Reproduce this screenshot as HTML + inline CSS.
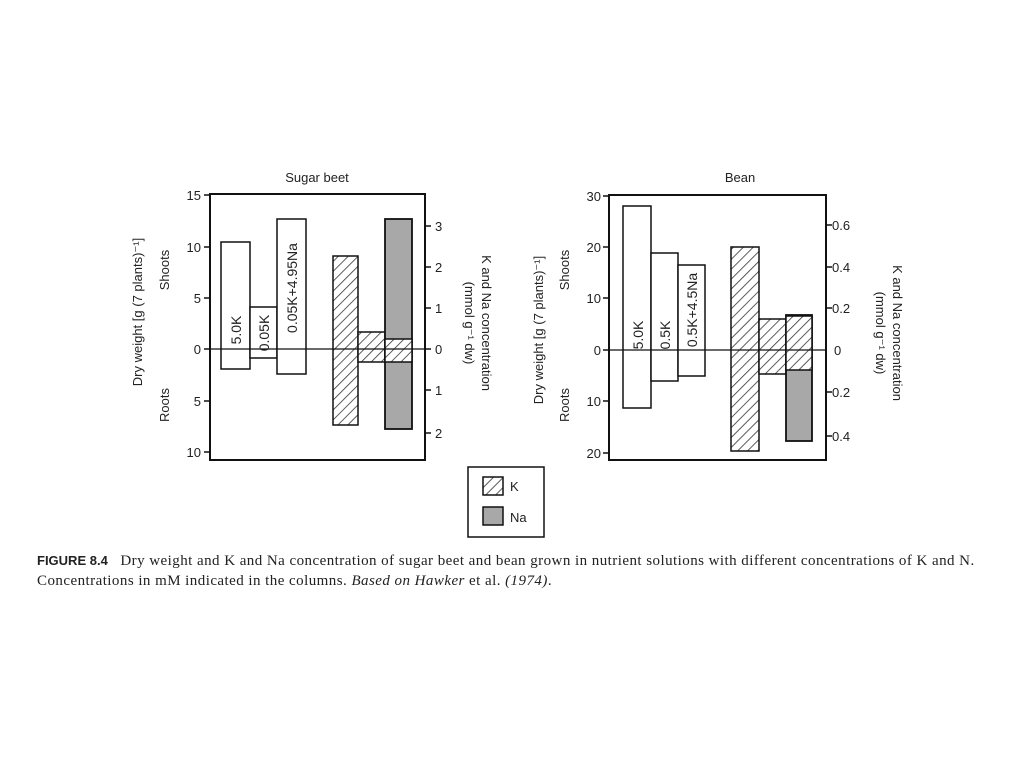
<!DOCTYPE html>
<html><head><meta charset="utf-8"><style>
body{margin:0;background:#fff;width:1024px;height:768px;overflow:hidden}
svg text{font-family:"Liberation Sans",sans-serif;fill:#222}
.cap{position:absolute;left:37px;font-family:"Liberation Serif",serif;font-size:15px;letter-spacing:0.45px;color:#222;white-space:nowrap}
</style></head><body>
<svg width="1024" height="768" style="position:absolute;left:0;top:0">
<defs>
<pattern id="h" patternUnits="userSpaceOnUse" width="7" height="7" patternTransform="rotate(45)">
<rect width="7" height="7" fill="#fff"/><line x1="0" y1="0" x2="0" y2="7" stroke="#333" stroke-width="1.6"/>
</pattern>
</defs>
<g stroke="#111" fill="none">
<!-- Sugar beet -->
<rect x="210" y="194" width="215" height="266" stroke-width="2"/>
<rect x="221" y="242" width="29" height="127" fill="#fff" stroke-width="1.5"/>
<rect x="250" y="307" width="27" height="51" fill="#fff" stroke-width="1.5"/>
<rect x="277" y="219" width="29" height="155" fill="#fff" stroke-width="1.5"/>
<rect x="333" y="256" width="25" height="169" fill="url(#h)" stroke-width="1.5"/>
<rect x="358" y="332" width="27" height="30" fill="url(#h)" stroke-width="1.5"/>
<rect x="385" y="219" width="27" height="210" fill="#a8a8a8" stroke-width="1.8"/>
<rect x="385" y="339" width="27" height="23" fill="url(#h)" stroke-width="1.5"/>
<line x1="210" y1="349" x2="425" y2="349" stroke-width="1.2"/>
<g stroke-width="1.5">
<line x1="204" y1="195" x2="210" y2="195"/><line x1="204" y1="247" x2="210" y2="247"/><line x1="204" y1="298" x2="210" y2="298"/><line x1="204" y1="349" x2="210" y2="349"/><line x1="204" y1="401" x2="210" y2="401"/><line x1="204" y1="452" x2="210" y2="452"/>
<line x1="425" y1="226" x2="431" y2="226"/><line x1="425" y1="267" x2="431" y2="267"/><line x1="425" y1="308" x2="431" y2="308"/><line x1="425" y1="349" x2="431" y2="349"/><line x1="425" y1="390" x2="431" y2="390"/><line x1="425" y1="433" x2="431" y2="433"/>
</g>
<!-- Bean -->
<rect x="609" y="195" width="217" height="265" stroke-width="2"/>
<rect x="623" y="206" width="28" height="202" fill="#fff" stroke-width="1.5"/>
<rect x="651" y="253" width="27" height="128" fill="#fff" stroke-width="1.5"/>
<rect x="678" y="265" width="27" height="111" fill="#fff" stroke-width="1.5"/>
<rect x="731" y="247" width="28" height="204" fill="url(#h)" stroke-width="1.5"/>
<rect x="759" y="319" width="27" height="55" fill="url(#h)" stroke-width="1.5"/>
<rect x="786" y="315" width="26" height="126" fill="#a8a8a8" stroke-width="1.8"/>
<rect x="786" y="316" width="26" height="54" fill="url(#h)" stroke-width="1.5"/>
<line x1="609" y1="350" x2="826" y2="350" stroke-width="1.2"/>
<g stroke-width="1.5">
<line x1="603" y1="196" x2="609" y2="196"/><line x1="603" y1="247" x2="609" y2="247"/><line x1="603" y1="298" x2="609" y2="298"/><line x1="603" y1="350" x2="609" y2="350"/><line x1="603" y1="401" x2="609" y2="401"/><line x1="603" y1="453" x2="609" y2="453"/>
<line x1="826" y1="225" x2="832" y2="225"/><line x1="826" y1="267" x2="832" y2="267"/><line x1="826" y1="308" x2="832" y2="308"/><line x1="826" y1="392" x2="832" y2="392"/><line x1="826" y1="436" x2="832" y2="436"/>
</g>
<!-- legend -->
<rect x="468" y="467" width="76" height="70" stroke-width="1.5"/>
<rect x="483" y="477" width="20" height="18" fill="url(#h)" stroke-width="1.5"/>
<rect x="483" y="507" width="20" height="18" fill="#a8a8a8" stroke-width="1.5"/>
</g>
<g font-size="13">
<text x="317" y="182" text-anchor="middle">Sugar beet</text>
<g text-anchor="end"><text x="201" y="200">15</text><text x="201" y="252">10</text><text x="201" y="303">5</text><text x="201" y="354">0</text><text x="201" y="406">5</text><text x="201" y="457">10</text></g>
<text x="435" y="231">3</text><text x="435" y="272">2</text><text x="435" y="313">1</text><text x="435" y="354">0</text><text x="435" y="395">1</text><text x="435" y="438">2</text>
<text x="740" y="182" text-anchor="middle">Bean</text>
<g text-anchor="end"><text x="601" y="201">30</text><text x="601" y="252">20</text><text x="601" y="303">10</text><text x="601" y="355">0</text><text x="601" y="406">10</text><text x="601" y="458">20</text></g>
<text x="832" y="230">0.6</text><text x="832" y="272">0.4</text><text x="832" y="313">0.2</text><text x="834" y="355">0</text><text x="832" y="397">0.2</text><text x="832" y="441">0.4</text>
<text x="510" y="491">K</text><text x="510" y="522">Na</text>
<g transform="rotate(-90)" font-size="14">
<text x="-330" y="241" text-anchor="middle">5.0K</text>
<text x="-333" y="269" text-anchor="middle">0.05K</text>
<text x="-288" y="297" text-anchor="middle">0.05K+4.95Na</text>
<text x="-335" y="643" text-anchor="middle">5.0K</text>
<text x="-335" y="670" text-anchor="middle">0.5K</text>
<text x="-310" y="697" text-anchor="middle">0.5K+4.5Na</text>
</g>
<g transform="rotate(-90)">
<text x="-312" y="142" text-anchor="middle">Dry weight [g (7 plants)⁻¹]</text>
<text x="-270" y="169" text-anchor="middle">Shoots</text>
<text x="-405" y="169" text-anchor="middle">Roots</text>
<text x="-330" y="543" text-anchor="middle">Dry weight [g (7 plants)⁻¹]</text>
<text x="-270" y="569" text-anchor="middle">Shoots</text>
<text x="-405" y="569" text-anchor="middle">Roots</text>
</g>
<g transform="rotate(90)">
<text x="323" y="-482" text-anchor="middle">K and Na concentration</text>
<text x="323" y="-465" text-anchor="middle">(mmol g⁻¹ dw)</text>
<text x="333" y="-893" text-anchor="middle">K and Na concentration</text>
<text x="333" y="-876" text-anchor="middle">(mmol g⁻¹ dw)</text>
</g>
</g>
</svg>
<div class="cap" style="top:553px"><b style="font-family:'Liberation Sans',sans-serif;font-size:13px;letter-spacing:0">FIGURE 8.4</b>&nbsp;&nbsp;&nbsp;Dry weight and K and Na concentration of sugar beet and bean grown in nutrient solutions with different concentrations of K and N.</div>
<div class="cap" style="top:573px">Concentrations in mM indicated in the columns. <i>Based on Hawker</i> et al. <i>(1974)</i>.</div>
</body></html>
